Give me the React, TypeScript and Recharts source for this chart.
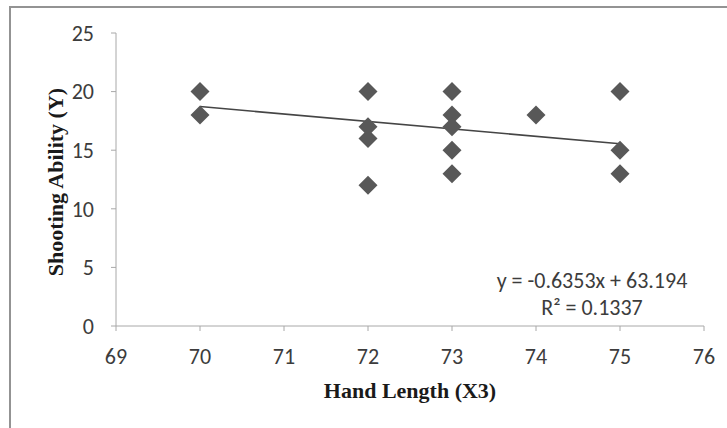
import React from 'react';
import { ScatterChart, Scatter, XAxis, YAxis, ReferenceLine } from 'recharts';

const handLength = [70, 70, 72, 72, 72, 72, 73, 73, 73, 73, 73, 74, 75, 75, 75];
const shootingAbility = [20, 18, 20, 17, 16, 12, 20, 18, 17, 15, 13, 18, 20, 15, 13];
const xTicks = [69, 70, 71, 72, 73, 74, 75, 76];
const yTicks = [0, 5, 10, 15, 20, 25];
const trendSlope = -0.6353;
const trendIntercept = 63.194;
const trendRange = [70, 75];
const equationLines = ['y = -0.6353x + 63.194', 'R² = 0.1337'];
const xTitle = 'Hand Length (X3)';
const yTitle = 'Shooting Ability (Y)';

const data = handLength.map((x, i) => ({ x, y: shootingAbility[i] }));
const trendSegment = trendRange.map((x) => ({ x, y: trendSlope * x + trendIntercept }));

const W = 727;
const H = 428;
const tickFont = "Carlito, 'Liberation Sans Narrow', Lato, sans-serif";
const titleFont = "'Liberation Serif', 'Times New Roman', serif";

const Diamond = (props: any) => {
  const { cx, cy } = props;
  if (cx == null || cy == null) return null;
  const r = 9.5;
  return (
    <polygon
      points={`${cx},${cy - r} ${cx + r},${cy} ${cx},${cy + r} ${cx - r},${cy}`}
      fill="#585858"
    />
  );
};

export default function App() {
  return (
    <div style={{ position: 'absolute', left: 0, top: 0, width: W, height: H, background: '#fff', overflow: 'hidden' }}>
      <div
        style={{
          position: 'absolute',
          left: 9,
          top: 6,
          width: W + 20,
          height: H + 20,
          border: '2px solid #939393',
          boxSizing: 'border-box',
        }}
      />
      <div style={{ position: 'absolute', left: 0, top: 0 }}>
        <ScatterChart width={W} height={H} margin={{ top: 33, right: 23, left: 0, bottom: 0 }}>
          <XAxis
            type="number"
            dataKey="x"
            domain={[69, 76]}
            ticks={xTicks}
            interval={0}
            height={102}
            stroke="#a8a8a8"
            tickSize={5}
            tickMargin={17}
            tick={{ fill: '#3c3c3c', fontSize: 22, fontFamily: tickFont }}
            allowDataOverflow
          />
          <YAxis
            type="number"
            dataKey="y"
            domain={[0, 25]}
            ticks={yTicks}
            interval={0}
            width={116}
            stroke="#a8a8a8"
            tickSize={5}
            tickMargin={17}
            tick={{ fill: '#3c3c3c', fontSize: 22, fontFamily: tickFont }}
            allowDataOverflow
          />
          <ReferenceLine
            segment={trendSegment}
            stroke="#454545"
            strokeWidth={1.6}
            ifOverflow="visible"
          />
          <Scatter data={data} shape={Diamond} isAnimationActive={false} />
        </ScatterChart>
      </div>
      <svg width={W} height={H} style={{ position: 'absolute', left: 0, top: 0, pointerEvents: 'none' }}>
        <text
          x={55}
          y={182}
          transform="rotate(-90 55 182)"
          textAnchor="middle"
          dominantBaseline="central"
          fontFamily={titleFont}
          fontWeight="bold"
          fontSize={22}
          fill="#1a1a1a"
        >
          {yTitle}
        </text>
        <text
          x={410}
          y={390}
          textAnchor="middle"
          dominantBaseline="central"
          fontFamily={titleFont}
          fontWeight="bold"
          fontSize={22}
          fill="#1a1a1a"
        >
          {xTitle}
        </text>
        {equationLines.map((line, i) => (
          <text
            key={i}
            x={592}
            y={280 + i * 27}
            textAnchor="middle"
            dominantBaseline="central"
            fontFamily={tickFont}
            fontSize={22}
            fill="#3c3c3c"
          >
            {line}
          </text>
        ))}
      </svg>
    </div>
  );
}
